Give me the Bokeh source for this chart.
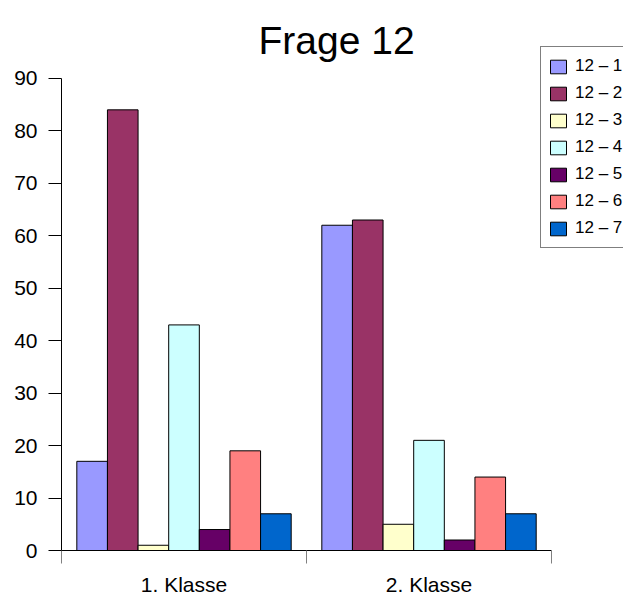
from bokeh.plotting import figure
from bokeh.models import (Range1d, FixedTicker, Legend, LegendItem, ColumnDataSource, Label)
from bokeh.transform import dodge
from bokeh.embed import file_html
from bokeh.resources import INLINE

classes = ["1. Klasse", "2. Klasse"]
series = ["12 – 1", "12 – 2", "12 – 3", "12 – 4", "12 – 5", "12 – 6", "12 – 7"]
s1 = [17, 62]
s2 = [84, 63]
s3 = [1, 5]
s4 = [43, 21]
s5 = [4, 2]
s6 = [19, 14]
s7 = [7, 7]
values = [s1, s2, s3, s4, s5, s6, s7]
colors = ["#9999FF", "#993366", "#FFFFCC", "#CCFFFF", "#660066", "#FF8080", "#0066CC"]
y_ticks = [0, 10, 20, 30, 40, 50, 60, 70, 80, 90]
y_max = 90
title_text = "Frage 12"

FONT = "Liberation Sans"

n = len(classes)
centers = [k + 0.5 for k in range(n)]
bounds = [float(k) for k in range(n + 1)]

# the plot area fills the page to the top and right edge; the axes cover
# 490 of its 562 px horizontally and 473 of its 551 px vertically
x_end = n * 562 / 490
y_end = y_max * 551 / 473

p = figure(width=623, height=598, x_range=Range1d(0, x_end),
           y_range=Range1d(0, y_end),
           toolbar_location=None, output_backend="svg",
           min_border_left=61, min_border_right=0, min_border_top=0,
           min_border_bottom=47)
p.outline_line_color = None
p.xgrid.visible = False
p.ygrid.visible = False

bw = 0.125
items = []
for i, (name, vals, c) in enumerate(zip(series, values, colors)):
    src = ColumnDataSource(dict(x=centers, top=vals))
    r = p.vbar(x=dodge("x", (i - 3) * bw), top="top", width=bw,
               source=src, fill_color=c, line_color="black", line_width=1)
    items.append(LegendItem(label=name, renderers=[r]))

yax = p.yaxis[0]
yax.bounds = (0, y_max)
yax.ticker = FixedTicker(ticks=y_ticks)
yax.major_tick_out = 13
yax.major_tick_in = 0
yax.minor_tick_out = 0
yax.minor_tick_in = 0
yax.axis_line_color = "black"
yax.major_tick_line_color = "black"
yax.major_label_standoff = 11
yax.major_label_text_font = FONT
yax.major_label_text_font_size = "21px"
yax.major_label_text_color = "black"

xax = p.xaxis[0]
xax.bounds = (0, n)
xax.ticker = FixedTicker(ticks=centers, minor_ticks=bounds)
xax.major_label_overrides = {c: lab for c, lab in zip(centers, classes)}
xax.major_tick_out = 0
xax.major_tick_in = 0
xax.minor_tick_out = 13
xax.minor_tick_in = 0
xax.minor_tick_line_color = "#808080"
xax.axis_line_color = "black"
xax.major_label_standoff = 9
xax.major_label_text_font = FONT
xax.major_label_text_font_size = "21px"
xax.major_label_text_color = "black"

legend = Legend(items=items, location=(479, 302), orientation="vertical",
                glyph_width=20, glyph_height=17, label_height=24, spacing=3,
                padding=7, margin=0, label_standoff=7,
                label_text_font=FONT, label_text_font_size="17px",
                label_text_color="black", border_line_color="black",
                border_line_width=1, background_fill_color="white",
                background_fill_alpha=1)
p.add_layout(legend, "center")

title = Label(x=197, y=510, x_units="screen", y_units="screen", text=title_text,
              text_font=FONT, text_font_size="39px", text_color="black",
              text_align="left", text_baseline="alphabetic")
p.add_layout(title)

open("out.html", "w").write(file_html(p, INLINE))
